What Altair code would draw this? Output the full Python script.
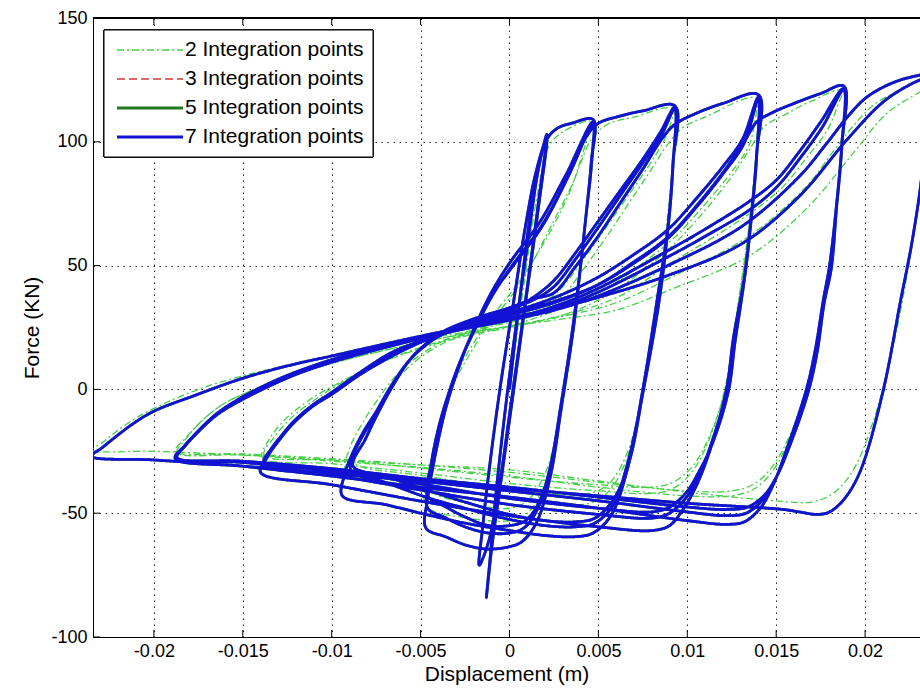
import altair as alt
import pandas as pd

# Cyclic pushover response: displacement (m) vs. base force (kN), one path per
# fibre-section discretisation.  Each list holds one amplitude group of the
# loading history as (displacement, force) vertices, in loading order.

# ---- 7 integration points ----
b7_a1 = [
    (0.0, 0), (0.0006, 38), (0.0012, 72), (0.0017, 93), (0.0021, 102),
    (0.0016, 72), (0.0009, 35), (0.0002, -2), (-0.0005, -38), (-0.0010, -64), (-0.0013, -84),
    (-0.0011, -69), (-0.0008, -45), (-0.0003, -12), (0.0003, 22), (0.0010, 58), (0.0016, 88), (0.0021, 103),
    (0.0016, 74), (0.0009, 36), (0.0001, -5), (-0.0006, -40), (-0.0012, -62), (-0.0017, -71),
]
b7_a2 = [
    (-0.0015, -55), (-0.0011, -30), (-0.0005, 2), (0.0002, 34), (0.0009, 66), (0.0015, 88), (0.0021, 101),
    (0.0027, 105.5), (0.0035, 107.5), (0.0047, 109),
    (0.0046, 92), (0.0043, 70), (0.0040, 50), (0.0035, 21), (0.0029, -8), (0.0023, -35), (0.0015, -54),
    (0.0007, -61.5), (0.0, -63.5), (-0.0012, -64.5), (-0.0024, -63), (-0.0036, -59.5), (-0.0047, -56),
    (-0.0046, -44), (-0.0043, -31), (-0.0036, -8), (-0.0029, 8), (-0.0022, 21), (-0.0011, 38), (0.0, 51),
    (0.0017, 67.5), (0.0032, 87), (0.0047, 108),
    (0.0046, 91), (0.0043, 70), (0.0040, 50), (0.0035, 22), (0.0029, -6), (0.0023, -31), (0.0016, -48),
    (0.0008, -56), (0.0, -58), (-0.0012, -58), (-0.0025, -55.5), (-0.0037, -51.5), (-0.0046, -48),
    (-0.0045, -36), (-0.0042, -24), (-0.0036, -6), (-0.0029, 9), (-0.0021, 22), (-0.0010, 37.5), (0.0001, 49.5),
    (0.0018, 66), (0.0033, 86), (0.0047, 107),
    (0.0046, 90), (0.0043, 70), (0.0040, 50), (0.0036, 25), (0.0030, -3), (0.0024, -28), (0.0017, -45),
    (0.0009, -53), (0.0, -55), (-0.0012, -55), (-0.0025, -51.5), (-0.0037, -47), (-0.0046, -43),
]
b7_a3 = [
    (-0.0044, -30), (-0.0039, -13), (-0.0031, 5), (-0.0022, 21), (-0.0011, 37), (0.0001, 49), (0.0018, 65.5),
    (0.0033, 86), (0.0044, 103), (0.0050, 107.5), (0.0060, 110), (0.0075, 112.5), (0.0093, 114.5),
    (0.0092, 92), (0.0089, 65), (0.0083, 36), (0.0075, 0), (0.0066, -33), (0.0057, -51), (0.0047, -58),
    (0.0037, -59.5), (0.0020, -59), (0.0, -57), (-0.0025, -54), (-0.0047, -50.5), (-0.0070, -46.5), (-0.0094, -43),
    (-0.0093, -35), (-0.0089, -27), (-0.0082, -17), (-0.0075, -9), (-0.0066, 2), (-0.0056, 12), (-0.0046, 18.5),
    (-0.0037, 22.5), (-0.0020, 27.5), (0.0, 32), (0.0013, 37), (0.0025, 44), (0.0037, 55), (0.0049, 67),
    (0.0062, 80), (0.0075, 93), (0.0085, 104), (0.0093, 114),
    (0.0092, 91), (0.0089, 64), (0.0083, 35), (0.0075, -1), (0.0066, -31), (0.0058, -47), (0.0048, -54),
    (0.0037, -55.5), (0.0020, -55), (0.0, -52.5), (-0.0025, -48), (-0.0047, -43.5), (-0.0070, -37.5), (-0.0089, -33),
    (-0.0088, -27), (-0.0082, -18), (-0.0075, -10), (-0.0066, 1.5), (-0.0056, 12), (-0.0046, 18.5), (-0.0037, 23),
    (-0.0020, 28), (0.0, 32.5), (0.0013, 36), (0.0025, 41.5), (0.0037, 52.5), (0.0049, 64.5), (0.0062, 78),
    (0.0075, 91.5), (0.0086, 103.5), (0.0093, 113.5),
    (0.0092, 91), (0.0089, 64), (0.0084, 35), (0.0075, -1.5), (0.0067, -30), (0.0058, -45), (0.0048, -52),
    (0.0037, -53.5), (0.0020, -53), (0.0, -50.5), (-0.0025, -45.5), (-0.0047, -40.5), (-0.0070, -35), (-0.0088, -31),
]
b7_a4 = [
    (-0.0081, -20), (-0.0075, -11), (-0.0066, 1), (-0.0056, 12), (-0.0046, 19), (-0.0037, 23.5), (-0.0020, 28.5),
    (0.0, 33), (0.0013, 36.5), (0.0025, 39), (0.0037, 49.5), (0.0049, 61), (0.0062, 75), (0.0075, 89),
    (0.0086, 101.5), (0.0093, 107), (0.0105, 111.5), (0.0120, 115.5), (0.0140, 119),
    (0.0139, 95), (0.0136, 70), (0.0132, 45), (0.0126, 21), (0.0122, 0), (0.0113, -24), (0.0105, -39),
    (0.0098, -48), (0.0090, -55), (0.0080, -57), (0.0050, -55.5), (0.0, -51), (-0.0047, -45.5), (-0.0100, -38.5),
    (-0.0140, -33.5),
    (-0.0136, -27), (-0.0129, -20), (-0.0122, -14), (-0.0111, -7), (-0.0100, -2), (-0.0084, 6), (-0.0066, 13.5),
    (-0.0050, 19), (-0.0030, 24.5), (-0.0015, 28), (0.0, 31), (0.0025, 37), (0.0049, 45), (0.0070, 54.5),
    (0.0089, 64.5), (0.0105, 77), (0.0120, 90), (0.0131, 101), (0.0140, 118),
    (0.0139, 94), (0.0136, 69), (0.0132, 44), (0.0126, 20), (0.0122, -1), (0.0113, -23), (0.0106, -36),
    (0.0099, -44), (0.0090, -50), (0.0080, -52), (0.0050, -50.5), (0.0, -46.5), (-0.0047, -41), (-0.0100, -34.5),
    (-0.0138, -30.5),
    (-0.0134, -24.5), (-0.0128, -18.5), (-0.0120, -12), (-0.0110, -6), (-0.0100, -1.5), (-0.0084, 6.5),
    (-0.0066, 14.5), (-0.0050, 19.5), (-0.0030, 24.5), (-0.0015, 28), (0.0, 30.5), (0.0025, 35.5), (0.0049, 42),
    (0.0070, 51), (0.0089, 61), (0.0105, 73.5), (0.0120, 87), (0.0132, 99.5), (0.0140, 117.5),
    (0.0139, 94), (0.0136, 69), (0.0132, 44), (0.0127, 20), (0.0123, -1), (0.0114, -22), (0.0106, -34),
    (0.0099, -42), (0.0090, -47.5), (0.0080, -49.5), (0.0050, -48), (0.0, -44), (-0.0047, -38.5), (-0.0100, -32.5),
    (-0.0138, -29.5),
]
b7_a5 = [
    (-0.0134, -24), (-0.0128, -18.5), (-0.0122, -13.4), (-0.0111, -6.5), (-0.0100, -1.2), (-0.0084, 6.9),
    (-0.0066, 15), (-0.0050, 19.5), (-0.0030, 24), (-0.0015, 27.5), (0.0, 30), (0.0025, 35), (0.0049, 42),
    (0.0070, 51.5), (0.0089, 61.5), (0.0105, 74), (0.0120, 87.5), (0.0132, 100), (0.0139, 108), (0.0147, 111.5),
    (0.0160, 115.5), (0.0175, 119.5), (0.0188, 122.5),
    (0.0187, 100), (0.0184, 75), (0.0180, 50), (0.01765, 36), (0.0172, 16), (0.0167, 0), (0.0156, -24),
    (0.0148, -39), (0.0141, -48), (0.0132, -53.5), (0.0122, -54.5), (0.0100, -53), (0.0050, -48), (0.0, -43.5),
    (-0.0050, -39.5), (-0.0100, -35), (-0.0150, -31), (-0.0188, -28),
    (-0.0183, -23), (-0.0178, -19), (-0.0165, -10), (-0.0150, -3), (-0.0135, 2.5), (-0.0122, 6.5), (-0.0100, 12),
    (-0.0075, 17), (-0.0050, 21), (-0.0025, 25), (0.0, 28.5), (0.0025, 33.5), (0.0049, 40.5), (0.0089, 56),
    (0.0113, 66), (0.0135, 76), (0.0150, 84.5), (0.0163, 96), (0.0175, 108), (0.0188, 121.5),
    (0.0187, 99), (0.0184, 74), (0.0180, 49), (0.01765, 35), (0.0172, 15), (0.0167, -1), (0.0157, -23),
    (0.0149, -37), (0.0142, -45), (0.0133, -50), (0.0122, -51), (0.0100, -49.5), (0.0050, -45), (0.0, -41),
    (-0.0050, -37), (-0.0100, -33), (-0.0150, -29.5), (-0.0187, -27.5),
    (-0.0182, -22.5), (-0.0177, -18.5), (-0.0165, -10.5), (-0.0150, -3.5), (-0.0135, 2), (-0.0122, 6),
    (-0.0100, 11.5), (-0.0075, 16.5), (-0.0050, 20.5), (-0.0025, 24.5), (0.0, 28), (0.0025, 32.5), (0.0049, 39),
    (0.0089, 53.5), (0.0113, 63), (0.0135, 72.5), (0.0150, 81.5), (0.0163, 93), (0.0176, 106), (0.0188, 121),
    (0.0187, 99), (0.0184, 74), (0.0181, 49), (0.0177, 35), (0.0173, 15), (0.0168, -1), (0.0158, -22),
    (0.0150, -35.5), (0.0143, -43), (0.0134, -47.5), (0.0122, -48.5), (0.0100, -47.5), (0.0050, -43.5),
    (0.0, -39.5), (-0.0050, -36), (-0.0100, -32), (-0.0150, -29), (-0.0188, -27.5),
]
b7_a6 = [
    (-0.0183, -23), (-0.0177, -18.5), (-0.0165, -10.5), (-0.0150, -4), (-0.0122, 5.5), (-0.0100, 11),
    (-0.0075, 16), (-0.0050, 20.5), (-0.0025, 24.5), (0.0, 28), (0.0025, 32), (0.0049, 37.5), (0.0089, 50),
    (0.0131, 66), (0.0163, 86), (0.0178, 99), (0.0190, 110), (0.0200, 117.5), (0.0210, 122), (0.0220, 125),
    (0.0230, 126.8), (0.0236, 127.5),
    (0.0235, 110), (0.0233, 95), (0.0231, 81), (0.0226, 58), (0.0220, 36), (0.0210, -1), (0.0197, -33.5),
    (0.0188, -44.5), (0.0180, -49.5), (0.0173, -50.5), (0.0163, -49.5), (0.0154, -48.5), (0.0100, -46),
    (0.0050, -43), (0.0, -40), (-0.0050, -37), (-0.0100, -34), (-0.0150, -31), (-0.0200, -28.5), (-0.0235, -27),
    (-0.0229, -23.5), (-0.0223, -20), (-0.0212, -14), (-0.0200, -8.8), (-0.0178, -2.7), (-0.0150, 4.5),
    (-0.0122, 10), (-0.0100, 13.5), (-0.0066, 19), (-0.0040, 23), (-0.0009, 27.6), (0.0025, 32.5), (0.0049, 37),
    (0.0089, 46), (0.0131, 59), (0.0163, 78), (0.0190, 101), (0.0210, 116), (0.0225, 123), (0.0236, 126.5),
]

# ---- 2 integration points ----
b2_a2 = [
    (0.0, 0), (0.0008, 42), (0.0016, 80), (0.0022, 98), (0.0030, 104), (0.0047, 108),
    (0.0045, 85), (0.0040, 48), (0.0035, 18), (0.0028, -14), (0.0020, -38), (0.0010, -50), (0.0, -53),
    (-0.0023, -52), (-0.0047, -47),
    (-0.0045, -33), (-0.0040, -15), (-0.0031, 3), (-0.0020, 17), (-0.0008, 31), (0.0005, 43), (0.0020, 60),
    (0.0034, 80), (0.0047, 107),
    (0.0045, 85), (0.0040, 48), (0.0035, 18), (0.0028, -12), (0.0020, -34), (0.0010, -45), (0.0, -48),
    (-0.0023, -46), (-0.0046, -40),
]
b2_a3 = [
    (-0.0044, -28), (-0.0038, -10), (-0.0030, 6), (-0.0018, 21), (-0.0004, 33), (0.0008, 45), (0.0022, 64),
    (0.0036, 84), (0.0046, 101), (0.0055, 107), (0.0070, 110), (0.0093, 113),
    (0.0091, 85), (0.0087, 58), (0.0082, 32), (0.0075, -1), (0.0066, -28), (0.0056, -41), (0.0045, -46),
    (0.0020, -46), (0.0, -44), (-0.0047, -39), (-0.0092, -33),
    (-0.0090, -24), (-0.0083, -14), (-0.0074, -4), (-0.0062, 7), (-0.0048, 15), (-0.0030, 22), (-0.0010, 26),
    (0.0010, 31), (0.0028, 40), (0.0040, 51), (0.0052, 63), (0.0065, 76.5), (0.0078, 90), (0.0088, 102),
    (0.0093, 112),
    (0.0091, 84), (0.0087, 57), (0.0082, 31), (0.0075, -2), (0.0066, -26), (0.0056, -38), (0.0045, -42),
    (0.0020, -42), (0.0, -40), (-0.0047, -35), (-0.0088, -29),
]
b2_a4 = [
    (-0.0080, -19), (-0.0072, -7), (-0.0062, 5), (-0.0048, 14), (-0.0030, 21), (-0.0010, 25.5), (0.0010, 29),
    (0.0030, 38), (0.0041, 48), (0.0053, 60), (0.0066, 74), (0.0079, 88), (0.0090, 100), (0.0098, 106),
    (0.0110, 110), (0.0140, 117.5),
    (0.0138, 90), (0.0134, 62), (0.0128, 32), (0.0122, 3), (0.0113, -19), (0.0103, -33), (0.0092, -40),
    (0.0080, -42), (0.0050, -41), (0.0, -38), (-0.0047, -34), (-0.0100, -30), (-0.0139, -27.5),
    (-0.0135, -20), (-0.0126, -12), (-0.0112, -4), (-0.0095, 3), (-0.0075, 10), (-0.0050, 17), (-0.0025, 22),
    (0.0, 25.5), (0.0030, 33), (0.0055, 41), (0.0075, 51), (0.0093, 61.5), (0.0109, 74), (0.0124, 87),
    (0.0135, 99), (0.0140, 116),
    (0.0138, 89), (0.0134, 61), (0.0128, 31), (0.0122, 2), (0.0113, -18), (0.0103, -31), (0.0092, -37.5),
    (0.0080, -39.5), (0.0050, -38.5), (0.0, -35.5), (-0.0047, -32), (-0.0100, -28.5), (-0.0138, -26.5),
]
b2_a5 = [
    (-0.0132, -19), (-0.0122, -11), (-0.0110, -4.5), (-0.0095, 2.5), (-0.0075, 10), (-0.0050, 16.5),
    (-0.0025, 21.5), (0.0, 25), (0.0030, 30), (0.0055, 38), (0.0075, 48), (0.0093, 59), (0.0109, 71.5),
    (0.0124, 85), (0.0136, 98), (0.0143, 106), (0.0155, 111), (0.0170, 116.5), (0.0188, 120.5),
    (0.0186, 92), (0.0182, 62), (0.0176, 32), (0.0168, 3), (0.0158, -19), (0.0148, -33), (0.0138, -40),
    (0.0125, -43), (0.0100, -43), (0.0050, -39.5), (0.0, -35), (-0.0050, -31.5), (-0.0100, -29),
    (-0.0150, -26.5), (-0.0187, -25.5),
    (-0.0182, -20), (-0.0172, -12), (-0.0160, -5.5), (-0.0140, 1), (-0.0120, 6), (-0.0100, 10.5),
    (-0.0075, 15), (-0.0050, 19), (-0.0025, 22.5), (0.0, 25.5), (0.0030, 30), (0.0060, 37), (0.0093, 52),
    (0.0117, 62.5), (0.0139, 73), (0.0154, 82), (0.0167, 93.5), (0.0179, 105), (0.0188, 119.5),
    (0.0186, 91), (0.0182, 61), (0.0176, 31), (0.0168, 2), (0.0158, -18), (0.0148, -31), (0.0138, -38),
    (0.0125, -41), (0.0100, -41), (0.0050, -37.5), (0.0, -33.5), (-0.0050, -30.5), (-0.0100, -28),
    (-0.0150, -26), (-0.0188, -25),
]
b2_a6 = [
    (-0.0182, -19.5), (-0.0172, -12), (-0.0160, -5.5), (-0.0140, 1), (-0.0120, 6), (-0.0100, 10.5),
    (-0.0075, 15), (-0.0050, 19), (-0.0025, 22.5), (0.0, 25.5), (0.0030, 29.5), (0.0060, 35), (0.0093, 46),
    (0.0135, 62), (0.0167, 82), (0.0182, 96), (0.0194, 107), (0.0205, 115), (0.0220, 121), (0.0236, 125.5),
    (0.0234, 100), (0.0230, 75), (0.0224, 48), (0.0216, 18), (0.0205, -12), (0.0193, -33), (0.0182, -42),
    (0.0170, -45.5), (0.0150, -45), (0.0100, -41.5), (0.0050, -37), (0.0, -32.5), (-0.0050, -30.5),
    (-0.0100, -28.5), (-0.0150, -26.5), (-0.0200, -25), (-0.0235, -24.5),
    (-0.0229, -21.5), (-0.0222, -17.5), (-0.0210, -11.5), (-0.0195, -6), (-0.0175, 0), (-0.0150, 5.5),
    (-0.0120, 10.5), (-0.0090, 15), (-0.0060, 19), (-0.0030, 22.5), (0.0, 25.5), (0.0030, 28.5), (0.0060, 32),
    (0.0093, 41), (0.0135, 54), (0.0167, 73), (0.0194, 96), (0.0213, 112), (0.0236, 122),
]

x_ticks = [-0.02, -0.015, -0.01, -0.005, 0, 0.005, 0.01, 0.015, 0.02]
y_ticks = [-100, -50, 0, 50, 100, 150]

labels = ["2 Integration points", "3 Integration points",
          "5 Integration points", "7 Integration points"]
paths = {
    labels[0]: [b2_a2, b2_a3, b2_a4, b2_a5, b2_a6],
    # the 3- and 5-point runs lie on the 7-point path at this scale
    labels[1]: [b7_a1, b7_a2, b7_a3, b7_a4, b7_a5, b7_a6],
    labels[2]: [b7_a1, b7_a2, b7_a3, b7_a4, b7_a5, b7_a6],
    labels[3]: [b7_a1, b7_a2, b7_a3, b7_a4, b7_a5, b7_a6],
}

# line styles: colour, dash pattern, width
styles = {
    labels[0]: ("#45cf45", [7, 3, 2, 3], 1.3),
    labels[1]: ("#cf3b3b", [8, 4], 1.3),
    labels[2]: ("#1d7a1d", [1, 0], 2.8),
    labels[3]: ("#1212d4", [1, 0], 2.8),
}

W, H = 827, 619
FONT = "Liberation Sans"

x_scale = alt.Scale(domain=[-0.023425, 0.023088], nice=False, zero=False)
y_scale = alt.Scale(domain=[-100, 150], nice=False, zero=False)
x_axis = alt.Axis(title="Displacement (m)", values=x_ticks,
                  labelExpr="toString(datum.value)")
y_axis = alt.Axis(title="Force (KN)", values=y_ticks,
                  labelExpr="toString(datum.value)")


def frame(groups):
    rows = []
    for g in groups:
        for x, f in g:
            rows.append({"x": x, "f": f, "order": len(rows)})
    return pd.DataFrame(rows)


layers = []
for name in labels:
    color, dash, width = styles[name]
    df = frame(paths[name])
    layers.append(
        alt.Chart(df).mark_line(
            interpolate="catmull-rom", clip=True, color=color,
            strokeDash=dash, strokeWidth=width, strokeJoin="round")
        .encode(x=alt.X("x:Q", scale=x_scale, axis=x_axis),
                y=alt.Y("f:Q", scale=y_scale, axis=y_axis),
                order="order:Q")
    )

# inward tick marks on the box edges
xt = pd.DataFrame({"x": x_ticks})
yt = pd.DataFrame({"f": y_ticks})
tick_len = 7
layers.append(alt.Chart(xt).mark_rule(color="black", strokeWidth=1).encode(
    x=alt.X("x:Q", scale=x_scale, axis=x_axis), y=alt.value(H), y2=alt.value(H - tick_len)))
layers.append(alt.Chart(xt).mark_rule(color="black", strokeWidth=1).encode(
    x=alt.X("x:Q", scale=x_scale, axis=x_axis), y=alt.value(0), y2=alt.value(tick_len)))
layers.append(alt.Chart(yt).mark_rule(color="black", strokeWidth=1).encode(
    y=alt.Y("f:Q", scale=y_scale, axis=y_axis), x=alt.value(0), x2=alt.value(tick_len)))
# top edge of the box
layers.append(alt.Chart(xt).mark_rule(color="black", strokeWidth=1).encode(
    x=alt.value(0), x2=alt.value(W), y=alt.value(0)))

# legend box
leg_x0, leg_x1, leg_y0, leg_y1 = 11, 280, 12, 139
row_y = [32, 61, 90, 119]
leg_df = pd.DataFrame({"label": labels})
layers.append(alt.Chart(leg_df).mark_rect(fill="white", stroke="black", strokeWidth=1).encode(
    x=alt.value(leg_x0), x2=alt.value(leg_x1), y=alt.value(leg_y0), y2=alt.value(leg_y1)))
for i, name in enumerate(labels):
    color, dash, width = styles[name]
    one = pd.DataFrame({"label": [name]})
    layers.append(alt.Chart(one).mark_rule(color=color, strokeDash=dash, strokeWidth=width).encode(
        x=alt.value(24), x2=alt.value(90), y=alt.value(row_y[i])))
    layers.append(alt.Chart(one).mark_text(
        align="left", baseline="middle", font=FONT, fontSize=21, color="black").encode(
        x=alt.value(92), y=alt.value(row_y[i]), text="label:N"))

chart = alt.layer(*layers).properties(
    width=W, height=H,
    autosize=alt.AutoSizeParams(type="none"),
    padding={"left": 93, "top": 18, "right": 0, "bottom": 59},
    background="white",
).configure_view(stroke=None).configure_axis(
    grid=True, gridColor="black", gridDash=[1.5, 4.5], gridWidth=1, gridOpacity=0.85,
    ticks=False, domain=True, domainColor="black", domainWidth=1,
    labelFont=FONT, labelFontSize=18, labelColor="black",
    titleFont=FONT, titleFontSize=21, titleFontWeight="normal", titleColor="black",
).configure_axisX(labelPadding=5, titlePadding=3).configure_axisY(labelPadding=6, titlePadding=8)

chart.save("out.html", embed_options={"renderer": "svg", "actions": False})
